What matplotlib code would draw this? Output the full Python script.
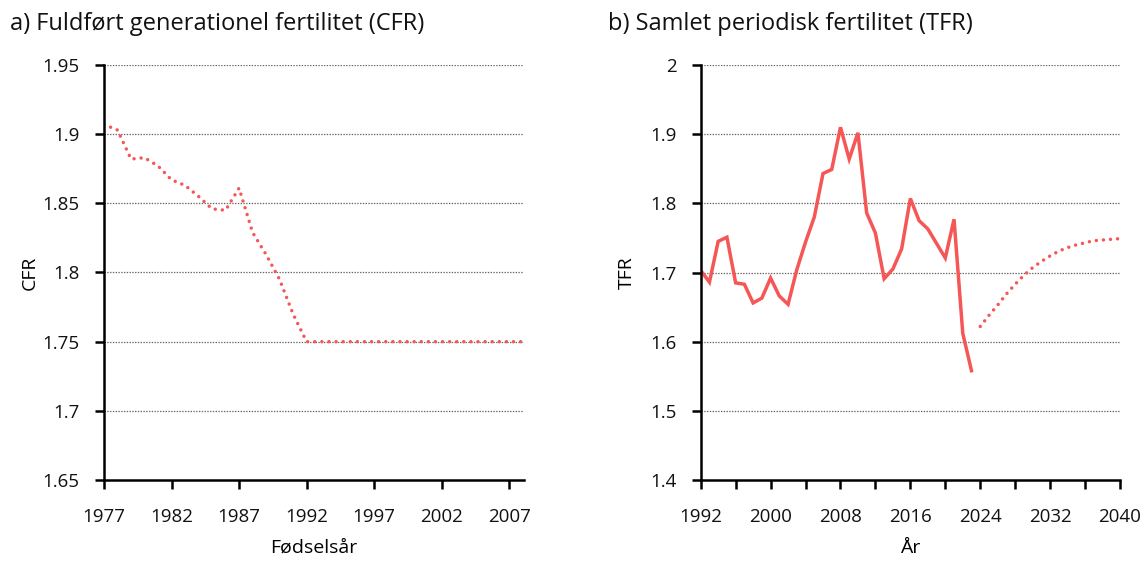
import matplotlib
matplotlib.use("Agg")
import matplotlib.pyplot as plt
import numpy as np

plt.rcParams['font.family'] = ['Open Sans', 'DejaVu Sans']
plt.rcParams['lines.scale_dashes'] = False

# ---- data ----
cfr_years = list(range(1977, 2009))
cfr_values = [1.907, 1.903, 1.882, 1.883, 1.877, 1.867, 1.863, 1.855, 1.846, 1.845,
              1.861, 1.829, 1.813, 1.795, 1.770, 1.750,
              1.75, 1.75, 1.75, 1.75, 1.75, 1.75, 1.75, 1.75, 1.75, 1.75,
              1.75, 1.75, 1.75, 1.75, 1.75, 1.75]

tfr_years = list(range(1992, 2024))
tfr_values = [1.703, 1.686, 1.745, 1.751, 1.685, 1.683, 1.656, 1.663, 1.692, 1.666,
              1.654, 1.704, 1.744, 1.780, 1.843, 1.849, 1.910, 1.864, 1.902, 1.786,
              1.757, 1.691, 1.705, 1.734, 1.807, 1.775, 1.763, 1.742, 1.721, 1.777,
              1.612, 1.558]

proj_years = list(range(2024, 2041))
proj_values = [1.622, 1.638, 1.653, 1.669, 1.683, 1.696, 1.707, 1.716, 1.724, 1.731,
               1.736, 1.740, 1.743, 1.746, 1.747, 1.748, 1.749]

cfr_xticks = [1977, 1982, 1987, 1992, 1997, 2002, 2007]
cfr_yticks = [1.65, 1.7, 1.75, 1.8, 1.85, 1.9, 1.95]
cfr_ylabels = ["1.65", "1.7", "1.75", "1.8", "1.85", "1.9", "1.95"]
tfr_xticks = list(range(1992, 2041, 4))
tfr_xlabels = ["1992", "", "2000", "", "2008", "", "2016", "", "2024", "", "2032", "", "2040"]
tfr_yticks = [1.4, 1.5, 1.6, 1.7, 1.8, 1.9, 2.0]
tfr_ylabels = ["1.4", "1.5", "1.6", "1.7", "1.8", "1.9", "2"]

title_a = "a) Fuldført generationel fertilitet (CFR)"
title_b = "b) Samlet periodisk fertilitet (TFR)"

RED = '#F55656'
W, H = 1148, 565
fig = plt.figure(figsize=(W / 100, H / 100), dpi=100)

def box(x0, x1, ytop, ybot):
    return [x0 / W, (H - ybot) / H, (x1 - x0) / W, (ybot - ytop) / H]

ax1 = fig.add_axes(box(104, 524, 65, 480))
ax2 = fig.add_axes(box(700.7, 1120, 65, 480))

dot_style = dict(color=RED, linewidth=2.5, linestyle=(0, (0.01, 5.1)),
                 dash_capstyle='round', solid_capstyle='round')

ax1.plot(cfr_years, cfr_values, **dot_style)
ax1.set_xlim(1977, 2008.1)
ax1.set_ylim(1.65, 1.95)
ax1.set_xticks(cfr_xticks)
ax1.set_xticklabels([str(t) for t in cfr_xticks])
ax1.set_yticks(cfr_yticks)
ax1.set_yticklabels(cfr_ylabels)
ax1.set_ylabel("CFR", fontsize=14)
ax1.set_xlabel("Fødselsår", fontsize=14)

ax2.plot(tfr_years, tfr_values, color=RED, linewidth=2.5, solid_joinstyle='miter')
ax2.plot(proj_years, proj_values, **dot_style)
ax2.set_xlim(1992, 2040)
ax2.set_ylim(1.4, 2.0)
ax2.set_xticks(tfr_xticks)
ax2.set_xticklabels(tfr_xlabels)
ax2.set_yticks(tfr_yticks)
ax2.set_yticklabels(tfr_ylabels)
ax2.set_ylabel("TFR", fontsize=14)
ax2.set_xlabel("År", fontsize=14)

for ax, yt in ((ax1, cfr_yticks), (ax2, tfr_yticks)):
    for s in ('top', 'right'):
        ax.spines[s].set_visible(False)
    for s in ('left', 'bottom'):
        ax.spines[s].set_linewidth(1.8)
        ax.spines[s].set_color('black')
    ax.tick_params(axis='both', length=6.5, width=1.8, color='black',
                   labelsize=13.5, labelcolor='#111111')
    ax.tick_params(axis='y', pad=11)
    ax.tick_params(axis='x', pad=14)
    for y in yt[1:]:
        ax.axhline(y, color='#666666', linewidth=0.9, linestyle=(0, (1, 1)), zorder=0)
    ax.set_facecolor('white')
    ax.yaxis.set_label_coords(-0.176, 0.5)
    ax.yaxis.label.set_verticalalignment('center')
    ax.xaxis.set_label_coords(0.5, -0.164)
    ax.xaxis.label.set_verticalalignment('center')

fig.text(10 / W, 1 - 24 / H, title_a, fontsize=17, ha='left', va='center', color='#111111')
fig.text(608 / W, 1 - 24 / H, title_b, fontsize=17, ha='left', va='center', color='#111111')

fig.savefig("out.png", dpi=100)
